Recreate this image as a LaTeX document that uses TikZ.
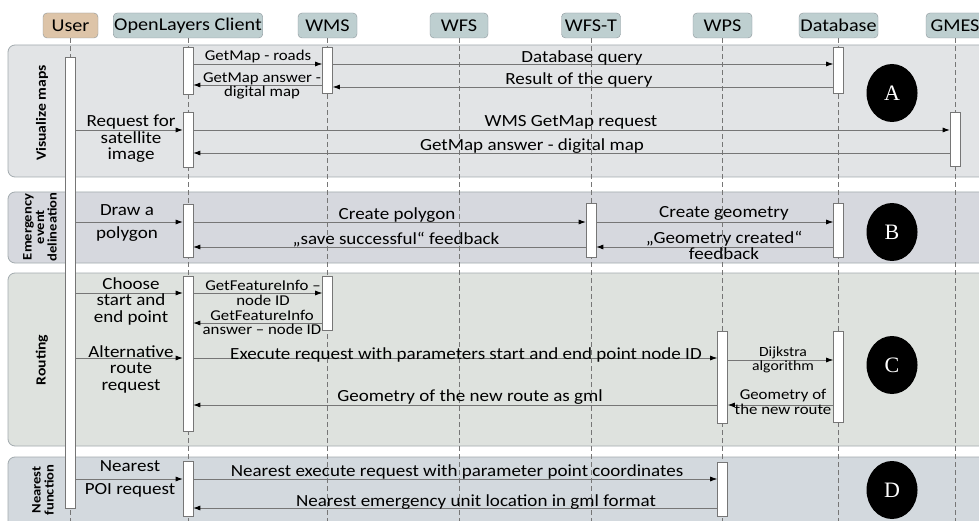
\documentclass[tikz,border=0pt]{standalone}
\usepackage{fontspec}
\setmainfont{Carlito}[FakeStretch=1.12]
\newfontfamily\tagfont{Liberation Serif}
\usepackage{tikz}
\usetikzlibrary{shapes.geometric, arrows.meta, calc}
\definecolor{hdrteal}{RGB}{190,207,208}
\definecolor{hdrtan}{RGB}{221,196,168}
\definecolor{hdrline}{RGB}{140,150,155}
\definecolor{laneA}{RGB}{226,228,230}
\definecolor{laneB}{RGB}{214,216,222}
\definecolor{laneC}{RGB}{222,226,222}
\definecolor{laneD}{RGB}{211,217,222}
\definecolor{msggray}{RGB}{118,118,118}

\tikzset{
  hdr/.style={draw=hdrline, fill=hdrteal, rounded corners=4pt, minimum height=25pt, inner sep=1pt, font=\fontsize{18}{18}\selectfont},
  lane/.style={draw=hdrline!80, rounded corners=7pt, line width=0.8pt},
  lifeline/.style={draw=msggray, dash pattern=on 5pt off 3pt, line width=0.5pt},
  actbox/.style={draw=msggray, fill=white, minimum width=10pt, inner sep=0pt, line width=0.6pt},
  msg/.style={draw=msggray, line width=0.7pt, -{Latex[length=7pt,width=5pt,color=black,fill=black]}},
  lbl/.style={font=\fontsize{17}{16.5}\selectfont, align=center, inner sep=0pt},
  lblsm/.style={font=\fontsize{15}{14.5}\selectfont, align=center, inner sep=0pt},
  lblxs/.style={font=\fontsize{14}{14}\selectfont, align=center, inner sep=0pt},
  lanelbl/.style={rotate=90, font=\bfseries\fontsize{14}{13}\selectfont, align=center, inner sep=0pt},
  lanetag/.style={ellipse, fill=black, minimum width=51pt, minimum height=58pt, inner sep=0pt, text=white, font=\tagfont\fontsize{22}{22}\selectfont}
}

\begin{document}
\begin{tikzpicture}[x=1pt, y=-1pt]
\useasboundingbox (0,0) rectangle (979,521);
\clip (0,0) rectangle (979,521);
\fill[white] (0,0) rectangle (979,521);

\draw[lane, fill=laneA] (8,45) rectangle (995,177);
\draw[lane, fill=laneB] (8,192) rectangle (995,263);
\draw[lane, fill=laneC] (8,273) rectangle (995,446);
\draw[lane, fill=laneD] (8,457) rectangle (995,535);

\node[lanelbl] (lblA) at (42,113) {Visualize maps};
\node[lanelbl, font=\bfseries\fontsize{13}{12.5}\selectfont] (lblB) at (40,227) {Emergency\\event\\delineation};
\node[lanelbl] (lblC) at (42,360) {Routing};
\node[lanelbl, font=\bfseries\fontsize{13}{13}\selectfont] (lblD) at (43,490) {Nearest\\function};

\node[hdr, fill=hdrtan, minimum width=55pt] (usr) at (70.5,25.5) {User};
\node[hdr, minimum width=141pt] (cli) at (188,25.5) {OpenLayers Client};
\node[hdr, minimum width=59pt] (wms) at (327.5,25.5) {WMS};
\node[hdr, minimum width=58pt] (wfs) at (459,25.5) {WFS};
\node[hdr, minimum width=59pt] (wfst) at (591,25.5) {WFS-T};
\node[hdr, minimum width=59pt] (wps) at (722.5,25.5) {WPS};
\node[hdr, minimum width=79pt] (db) at (838.5,25.5) {Database};
\node[hdr, minimum width=58pt] (gmes) at (955,25.5) {GMES};

\foreach \n in {usr,cli,wms,wfs,wfst,wps,db,gmes}
  \draw[lifeline] (\n.south) -- (\n.south |- 0,521);

\node[actbox, minimum height=451pt] (usrbar) at (70.5,282.5) {};
\node[actbox, minimum height=47pt] (cliA1) at (188,70.5) {};
\node[actbox, minimum height=55pt] (cliA2) at (188,139.5) {};
\node[actbox, minimum height=53pt] (cliB) at (188,230.5) {};
\node[actbox, minimum height=155pt] (cliC) at (188,353.5) {};
\node[actbox, minimum height=55pt] (cliD) at (188,488.5) {};
\node[actbox, minimum height=46pt] (wmsA) at (327.5,70) {};
\node[actbox, minimum height=54pt] (wmsC) at (327.5,303) {};
\node[actbox, minimum height=54pt] (wfstB) at (591,230) {};
\node[actbox, minimum height=92pt] (wpsC) at (722.5,377) {};
\node[actbox, minimum height=54pt] (wpsD) at (722.5,489) {};
\node[actbox, minimum height=46pt] (dbA) at (838.5,70) {};
\node[actbox, minimum height=54pt] (dbB) at (838.5,230) {};
\node[actbox, minimum height=91pt] (dbC) at (838.5,376.5) {};
\node[actbox, minimum height=54pt] (gmesA) at (955,139) {};

\draw[msg] (cliA1.east |- 0,64) -- (wmsA.west |- 0,64);
\draw[msg] (wmsA.east |- 0,64) -- (dbA.west |- 0,64);
\draw[msg] (dbA.west |- 0,87) -- (wmsA.east |- 0,87);
\draw[msg] (wmsA.west |- 0,85) -- (cliA1.east |- 0,85);
\draw[msg] (usrbar.east |- 0,130) -- (cliA2.west |- 0,130);
\draw[msg] (cliA2.east |- 0,130) -- (gmesA.west |- 0,130);
\draw[msg] (gmesA.west |- 0,153) -- (cliA2.east |- 0,153);
\node[lblsm] (mA1) at (258,57) {GetMap - roads};
\node[lbl] (mA2) at (582,58) {Database query};
\node[lbl] (mA3) at (579,80) {Result of the query};
\node[lblsm] (mA4) at (262,86) {GetMap answer -\\digital map};
\node[lbl] (mA5) at (131,139) {Request for\\satellite\\image};
\node[lbl] (mA6) at (571,122) {WMS GetMap request};
\node[lbl] (mA7) at (532,146) {GetMap answer - digital map};

\draw[msg] (usrbar.east |- 0,222) -- (cliB.west |- 0,222);
\draw[msg] (cliB.east |- 0,222) -- (wfstB.west |- 0,222);
\draw[msg] (wfstB.east |- 0,222) -- (dbB.west |- 0,222);
\draw[msg] (dbB.west |- 0,247) -- (wfstB.east |- 0,247);
\draw[msg] (wfstB.west |- 0,247) -- (cliB.east |- 0,247);
\node[lbl, font=\fontsize{17}{22.5}\selectfont] (mB1) at (127,223) {Draw a\\polygon};
\node[lbl] (mB2) at (397,215) {Create polygon};
\node[lbl] (mB3) at (396,240) {„save successful“ feedback};
\node[lbl] (mB4) at (724,213) {Create geometry};
\node[lbl, font=\fontsize{17}{16}\selectfont] (mB5) at (724,245) {„Geometry created“\\feedback};

\draw[msg] (usrbar.east |- 0,293) -- (cliC.west |- 0,293);
\draw[msg] (cliC.east |- 0,293) -- (wmsC.west |- 0,293);
\draw[msg] (wmsC.west |- 0,323) -- (cliC.east |- 0,323);
\draw[msg] (usrbar.east |- 0,358) -- (cliC.west |- 0,358);
\draw[msg] (cliC.east |- 0,358) -- (wpsC.west |- 0,358);
\draw[msg] (wpsC.east |- 0,360) -- (dbC.west |- 0,360);
\draw[msg] (dbC.west |- 0,405) -- (wpsC.east |- 0,405);
\draw[msg] (wpsC.west |- 0,405) -- (cliC.east |- 0,405);
\node[lbl] (mC1) at (131,301) {Choose\\start and\\end point};
\node[lblsm] (mC2) at (263,293) {GetFeatureInfo –\\node ID};
\node[lblsm] (mC3) at (262,322.5) {GetFeatureInfo\\answer – node ID};
\node[lbl] (mC4) at (131,369) {Alternative\\route\\request};
\node[lbl] (mC5) at (466,355) {Execute request with parameters start and end point node ID};
\node[lblxs] (mC6) at (783,360) {Dijkstra\\algorithm};
\node[lblsm] (mC7) at (783,402) {Geometry of\\the new route};
\node[lbl] (mC8) at (470,397) {Geometry of the new route as gml};

\draw[msg] (usrbar.east |- 0,479) -- (cliD.west |- 0,479);
\draw[msg] (cliD.east |- 0,479) -- (wpsD.west |- 0,479);
\draw[msg] (wpsD.west |- 0,508) -- (cliD.east |- 0,508);
\node[lbl, font=\fontsize{17}{23}\selectfont] (mD1) at (130,478.5) {Nearest\\POI request};
\node[lbl] (mD2) at (457,472) {Nearest execute request with parameter point coordinates};
\node[lbl] (mD3) at (476,502) {Nearest emergency unit location in gml format};

\node[lanetag] (tagA) at (892,93) {A};
\node[lanetag] (tagB) at (892,232) {B};
\node[lanetag] (tagC) at (892,365) {C};
\node[lanetag] (tagD) at (892,490) {D};
\end{tikzpicture}
\end{document}
